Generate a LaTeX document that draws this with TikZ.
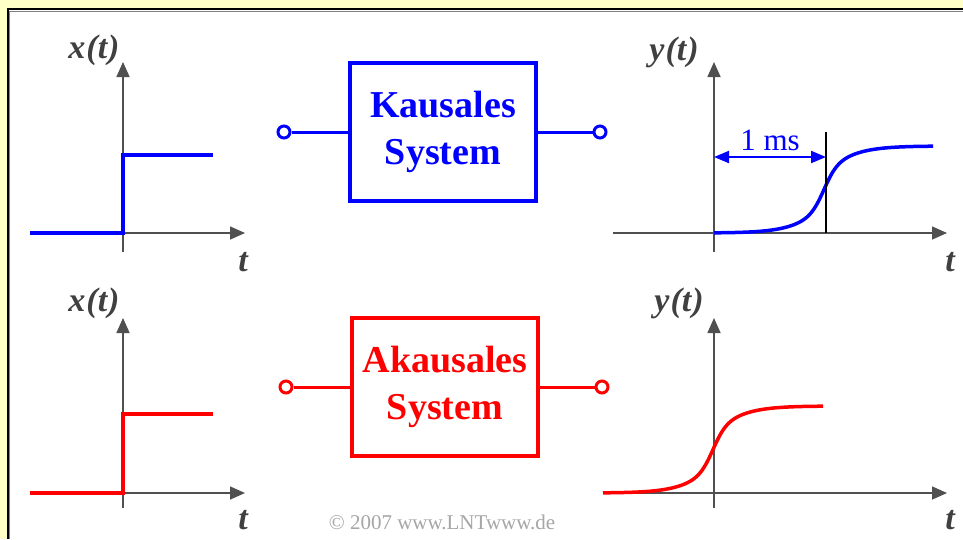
\documentclass[tikz,border=0pt]{standalone}
\usepackage{fontspec}
\setmainfont{Liberation Serif}
\usetikzlibrary{arrows.meta,positioning}
\definecolor{lntyellow}{RGB}{255,255,200}
\definecolor{axisgray}{RGB}{80,80,80}
\definecolor{labgray}{RGB}{64,64,64}
\definecolor{sysblue}{RGB}{0,0,255}
\definecolor{sysred}{RGB}{255,0,0}

\begin{document}
\begin{tikzpicture}[
  x=1pt, y=-1pt,
  axis/.style={draw=axisgray, line width=1.6pt, -{Triangle[length=15pt,width=13pt]}},
  sig/.style={line width=3.5pt},
  sysbox/.style={rectangle, draw, line width=3.5pt, minimum width=186pt,
                 minimum height=138pt, align=center,
                 font=\fontsize{38}{47}\selectfont\bfseries},
  port/.style={circle, draw=#1, line width=3pt, fill=white, minimum size=12pt,
               inner sep=0pt},
  wire/.style={line width=3pt},
  lbl/.style={font=\fontsize{34}{34}\selectfont\bfseries\itshape, text=labgray,
              inner sep=0pt},
  dim/.style={{Triangle[length=15pt,width=12pt]}-{Triangle[length=15pt,width=12pt]},
              line width=2pt},
  declare function={sfast(\u)=1/(1+exp(-max(-9,min(9,\u/6.5))));
                    sslow(\u)=1/(1+exp(-max(-9,min(9,\u/20))));
                    resp(\u)=-87*(0.5*sfast(\u)+0.5*sslow(\u));}
]
\useasboundingbox (0,0) rectangle (963,539);
\fill[lntyellow] (0,0) rectangle (963,539);
\fill[white] (8,9) rectangle (963,539);
\draw[black!50, line width=1pt] (9.5,539) -- (9.5,11) -- (963,11);
\draw[black, line width=2pt] (8,539) -- (8,9) -- (963,9);

% ---------------- upper row: causal ----------------
\draw[axis] (30,233) -- (245,233);
\draw[axis] (123,252) -- (123,62);
\node[lbl] (xa) at (94,50) {x\kern1pt(t\kern1pt)};
\node[lbl] (ta) at (243,262) {t};
\draw[sig, sysblue] (30,233) -- (123,233) -- (123,155) -- (213,155);

\node[sysbox, sysblue] (kaus) at (443,132) {Kausales\\System};
\node[port=sysblue] (kin) at (284,132) {};
\node[port=sysblue] (kout) at (600,132) {};
\draw[wire, sysblue] (kin) -- (kaus);
\draw[wire, sysblue] (kaus) -- (kout);

\draw[axis] (613,233) -- (947,233);
\draw[axis] (714,252) -- (714,62);
\node[lbl] (ya) at (674,52) {y\kern1pt(t\kern1pt)};
\node[lbl] (tb) at (950,262) {t};
\draw[sig, sysblue, shift={(824,233)}]
  plot[domain=-110:109, samples=150] (\x, {resp(\x)});
\coordinate (dlyTop) at (826,132);
\coordinate (dlyBot) at (826,233);
\draw[black, line width=1.3pt] (dlyTop) -- (dlyBot);
\coordinate (dimL) at (714,157);
\coordinate (dimR) at (826,157);
\draw[dim, sysblue] (dimL) -- node[above=2pt, text=sysblue,
  font=\fontsize{31}{31}\selectfont] (dlyLbl) {1 ms} (dimR);

% ---------------- lower row: acausal ----------------
\draw[axis] (30,493) -- (245,493);
\draw[axis] (123,508) -- (123,318);
\node[lbl] (xb) at (94,303) {x\kern1pt(t\kern1pt)};
\node[lbl] (tc) at (243,520) {t};
\draw[sig, sysred] (30,493) -- (123,493) -- (123,414) -- (213,414);

\node[sysbox, sysred] (akaus) at (445,387) {Akausales\\System};
\node[port=sysred] (ain) at (286,387) {};
\node[port=sysred] (aout) at (602,387) {};
\draw[wire, sysred] (ain) -- (akaus);
\draw[wire, sysred] (akaus) -- (aout);

\draw[axis] (613,493) -- (947,493);
\draw[axis] (714,508) -- (714,318);
\node[lbl] (yb) at (679,303) {y\kern1pt(t\kern1pt)};
\node[lbl] (td) at (950,520) {t};
\draw[sig, sysred, shift={(713,493)}]
  plot[domain=-110:110, samples=150] (\x, {resp(\x)});

\node[text=black!35, font=\fontsize{21}{21}\selectfont] (copy) at (442,522)
  {\textcopyright\ 2007 www.LNTwww.de};
\end{tikzpicture}
\end{document}
